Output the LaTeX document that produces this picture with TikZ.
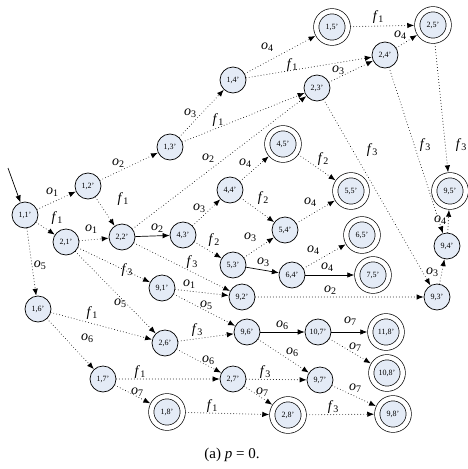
\documentclass[tikz,border=0pt]{standalone}
\usepackage{fontspec}
\setmainfont{Liberation Serif}
\usetikzlibrary{arrows.meta}
\definecolor{nfill}{RGB}{228,235,246}
\newcommand{\lb}[2]{\textit{#1}\raisebox{-0.35ex}{\fontsize{10}{10}\selectfont #2}}
\begin{document}
\begin{tikzpicture}[x=1pt,y=-1pt,
  st/.style={circle,draw,line width=0.7pt,fill=nfill,minimum size=26pt,inner sep=0pt,font=\fontsize{8}{8}\selectfont},
  acc/.style={st,minimum size=31.5pt,double,double distance=4.5pt,outer sep=3pt},
  dotedge/.style={line width=0.9pt,line cap=round,dash pattern=on 0pt off 3pt,-{Latex[length=7pt,width=5.5pt]}},
  soledge/.style={line width=0.7pt,-{Latex[length=7pt,width=5.5pt]}},
  lbl/.style={font=\fontsize{14}{14}\selectfont,inner sep=0pt}]
\useasboundingbox (0,0) rectangle (468,469);
% states
\node[st] (n11) at (25,215) {1,1'};
\node[st] (n12) at (88,186) {1,2'};
\node[st] (n21) at (66,242) {2,1'};
\node[st] (n22) at (122,237) {2,2'};
\node[st] (n13) at (170,147) {1,3'};
\node[st] (n14) at (233,80) {1,4'};
\node[acc] (n15) at (332,27) {1,5'};
\node[acc] (n25) at (433,25) {2,5'};
\node[st] (n24) at (385,55) {2,4'};
\node[st] (n23) at (317,88) {2,3'};
\node[acc] (n45) at (283,144) {4,5'};
\node[st] (n44) at (230,190) {4,4'};
\node[st] (n43) at (183,235) {4,3'};
\node[st] (n54) at (285,230) {5,4'};
\node[acc] (n55) at (351,191) {5,5'};
\node[st] (n53) at (233,265) {5,3'};
\node[st] (n64) at (292,275) {6,4'};
\node[acc] (n65) at (362,235) {6,5'};
\node[acc] (n75) at (373,275) {7,5'};
\node[acc] (n95) at (450,191) {9,5'};
\node[st] (n94) at (447,246) {9,4'};
\node[st] (n93) at (437,297) {9,3'};
\node[st] (n91) at (162,288) {9,1'};
\node[st] (n92) at (242,297) {9,2'};
\node[st] (n16) at (38,309) {1,6'};
\node[st] (n26) at (165,343) {2,6'};
\node[st] (n96) at (247,332) {9,6'};
\node[st] (n107) at (318,332) {10,7'};
\node[acc] (n118) at (386,332) {11,8'};
\node[st] (n17) at (103,379) {1,7'};
\node[st] (n27) at (233,379) {2,7'};
\node[st] (n97) at (320,380) {9,7'};
\node[acc] (n108) at (387,373) {10,8'};
\node[acc] (n18) at (167,412) {1,8'};
\node[acc] (n28) at (288,415) {2,8'};
\node[acc] (n98) at (393,414) {9,8'};
\node[font=\fontsize{15}{15}\selectfont] (cap) at (232,455) {(a) \textit{p} = 0.};
% initial arrow
\coordinate (start) at (8,168);
\draw[soledge] (start) -- (n11);
% transitions
\draw[dotedge] (n11) -- (n12);
\draw[dotedge] (n11) -- (n21);
\draw[dotedge] (n11) -- (n16);
\draw[dotedge] (n12) -- (n13);
\draw[dotedge] (n12) -- (n22);
\draw[dotedge] (n21) -- (n22);
\draw[dotedge] (n21) -- (n91);
\draw[dotedge] (n21) -- (n26);
\draw[soledge] (n22) -- (n43);
\draw[dotedge] (n22) -- (n23);
\draw[dotedge] (n22) -- (n92);
\draw[dotedge] (n13) -- (n14);
\draw[dotedge] (n13) -- (n23);
\draw[dotedge] (n14) -- (n15);
\draw[dotedge] (n14) -- (n24);
\draw[dotedge] (n15) -- (n25);
\draw[dotedge] (n23) -- (n24);
\draw[dotedge] (n24) -- (n25);
\draw[dotedge] (n23) -- (n93);
\draw[dotedge] (n24) -- (n94);
\draw[dotedge] (n25) -- (n95);
\draw[dotedge] (n43) -- (n44);
\draw[dotedge] (n43) -- (n53);
\draw[dotedge] (n44) -- (n45);
\draw[dotedge] (n44) -- (n54);
\draw[dotedge] (n45) -- (n55);
\draw[dotedge] (n54) -- (n55);
\draw[dotedge] (n53) -- (n54);
\draw[soledge] (n53) -- (n64);
\draw[dotedge] (n64) -- (n65);
\draw[soledge] (n64) -- (n75);
\draw[dotedge] (n91) -- (n92);
\draw[dotedge] (n91) -- (n96);
\draw[dotedge] (n92) -- (n93);
\draw[dotedge] (n93) -- (n94);
\draw[dotedge] (n94) -- (n95);
\draw[dotedge] (n16) -- (n26);
\draw[dotedge] (n16) -- (n17);
\draw[dotedge] (n26) -- (n96);
\draw[dotedge] (n26) -- (n27);
\draw[soledge] (n96) -- (n107);
\draw[dotedge] (n96) -- (n97);
\draw[soledge] (n107) -- (n118);
\draw[dotedge] (n107) -- (n108);
\draw[dotedge] (n17) -- (n27);
\draw[dotedge] (n17) -- (n18);
\draw[dotedge] (n27) -- (n97);
\draw[dotedge] (n27) -- (n28);
\draw[dotedge] (n18) -- (n28);
\draw[dotedge] (n97) -- (n98);
\draw[dotedge] (n28) -- (n98);
% labels
\node[lbl] (l1) at (52,192) {\lb{o}{1}};
\node[lbl] (l2) at (57,218) {\lb{f}{1}};
\node[lbl] (l3) at (40,265) {\lb{o}{5}};
\node[lbl] (l4) at (118,163) {\lb{o}{2}};
\node[lbl] (l5) at (123,199) {\lb{f}{1}};
\node[lbl] (l6) at (91,229) {\lb{o}{1}};
\node[lbl] (l7) at (127,270) {\lb{f}{3}};
\node[lbl] (l8) at (120,303) {\lb{o}{5}};
\node[lbl] (l9) at (157,228) {\lb{o}{2}};
\node[lbl] (l10) at (208,158) {\lb{o}{2}};
\node[lbl] (l11) at (192,262) {\lb{f}{3}};
\node[lbl] (l12) at (190,113) {\lb{o}{3}};
\node[lbl] (l13) at (218,120) {\lb{f}{1}};
\node[lbl] (l14) at (267,47) {\lb{o}{4}};
\node[lbl] (l15) at (292,65) {\lb{f}{1}};
\node[lbl] (l16) at (378,17) {\lb{f}{1}};
\node[lbl] (l17) at (338,70) {\lb{o}{3}};
\node[lbl] (l18) at (400,35) {\lb{o}{4}};
\node[lbl] (l19) at (372,150) {\lb{f}{3}};
\node[lbl] (l20) at (425,145) {\lb{f}{3}};
\node[lbl] (l21) at (461,145) {\lb{f}{3}};
\node[lbl] (l22) at (199,208) {\lb{o}{3}};
\node[lbl] (l23) at (214,240) {\lb{f}{2}};
\node[lbl] (l24) at (245,163) {\lb{o}{4}};
\node[lbl] (l25) at (263,198) {\lb{f}{2}};
\node[lbl] (l26) at (323,159) {\lb{f}{2}};
\node[lbl] (l27) at (310,202) {\lb{o}{4}};
\node[lbl] (l28) at (250,237) {\lb{o}{3}};
\node[lbl] (l29) at (263,262) {\lb{o}{3}};
\node[lbl] (l30) at (313,250) {\lb{o}{4}};
\node[lbl] (l31) at (327,267) {\lb{o}{4}};
\node[lbl] (l32) at (189,284) {\lb{o}{1}};
\node[lbl] (l33) at (206,305) {\lb{o}{5}};
\node[lbl] (l34) at (330,290) {\lb{o}{2}};
\node[lbl] (l35) at (432,272) {\lb{o}{3}};
\node[lbl] (l36) at (440,220) {\lb{o}{4}};
\node[lbl] (l37) at (92,313) {\lb{f}{1}};
\node[lbl] (l38) at (87,338) {\lb{o}{6}};
\node[lbl] (l39) at (197,330) {\lb{f}{3}};
\node[lbl] (l40) at (208,360) {\lb{o}{6}};
\node[lbl] (l41) at (282,325) {\lb{o}{6}};
\node[lbl] (l42) at (292,352) {\lb{o}{6}};
\node[lbl] (l43) at (350,321) {\lb{o}{7}};
\node[lbl] (l44) at (355,347) {\lb{o}{7}};
\node[lbl] (l45) at (140,372) {\lb{f}{1}};
\node[lbl] (l46) at (137,392) {\lb{o}{7}};
\node[lbl] (l47) at (265,372) {\lb{f}{3}};
\node[lbl] (l48) at (262,392) {\lb{o}{7}};
\node[lbl] (l49) at (212,406) {\lb{f}{1}};
\node[lbl] (l50) at (355,388) {\lb{o}{7}};
\node[lbl] (l51) at (333,407) {\lb{f}{3}};
\end{tikzpicture}
\end{document}
